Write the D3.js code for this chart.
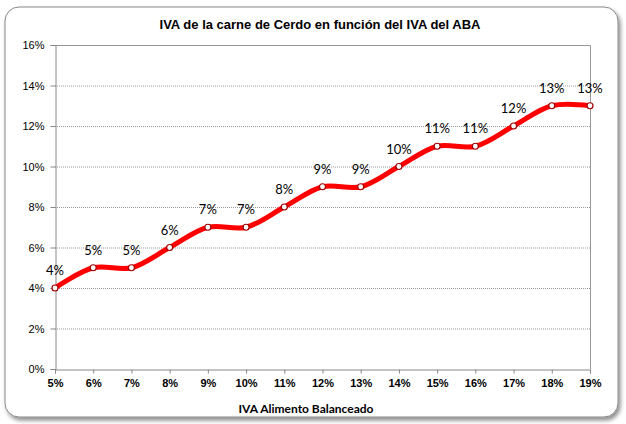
<!DOCTYPE html>
<meta charset="utf-8">
<style>
  body { margin: 0; background: #fff; font-family: Arial, "Liberation Sans", sans-serif; }
  .grid line { stroke: #999; stroke-dasharray: 1,1; }
  .axis path, .axis line { stroke: #888; }
  .axis text { fill: #000; font-size: 11px; }
  .xaxis text { font-weight: bold; }
</style>
<body>
<script src="https://d3js.org/d3.v7.min.js"></script>
<script>
  var categories = ["5%", "6%", "7%", "8%", "9%", "10%", "11%", "12%", "13%", "14%", "15%", "16%", "17%", "18%", "19%"];
  var values = [4, 5, 5, 6, 7, 7, 8, 9, 9, 10, 11, 11, 12, 13, 13];
  var yTicks = [0, 2, 4, 6, 8, 10, 12, 14, 16];

  var width = 626, height = 424;
  var plotLeft = 55, plotRight = 590, plotTop = 45, plotBottom = 369;

  var svg = d3.select("body").append("svg")
      .attr("width", width)
      .attr("height", height);

  // outer frame with soft shadow
  var defs = svg.append("defs");
  var f = defs.append("filter").attr("id", "sh").attr("x", "-5%").attr("y", "-5%").attr("width", "110%").attr("height", "110%");
  f.append("feDropShadow").attr("dx", 2).attr("dy", 3).attr("stdDeviation", 2).attr("flood-color", "#000").attr("flood-opacity", 0.45);

  svg.append("rect")
      .attr("x", 5).attr("y", 7)
      .attr("width", 613).attr("height", 410)
      .attr("rx", 14)
      .attr("fill", "#fff")
      .attr("stroke", "#888")
      .attr("stroke-width", 1)
      .attr("filter", "url(#sh)");

  var x = d3.scalePoint().domain(categories).range([plotLeft, plotRight]);
  var y = d3.scaleLinear().domain([0, 16]).range([plotBottom, plotTop]);

  // gridlines
  svg.append("g").attr("class", "grid")
    .selectAll("line")
    .data(yTicks.slice(1, -1))
    .enter().append("line")
      .attr("x1", plotLeft).attr("x2", plotRight)
      .attr("y1", function(d) { return y(d) + 0.5; })
      .attr("y2", function(d) { return y(d) + 0.5; });

  // plot border (top + right)
  svg.append("path")
      .attr("d", "M" + plotLeft + "," + (plotTop + 0.5) + "H" + (plotRight + 0.5) + "V" + plotBottom)
      .attr("fill", "none")
      .attr("stroke", "#999");

  svg.append("g")
      .attr("class", "axis")
      .attr("transform", "translate(" + (plotLeft + 0.5) + ",0)")
      .call(d3.axisLeft(y).tickValues(yTicks).tickSize(5).tickPadding(6)
        .tickFormat(function(d) { return d + "%"; }));

  svg.append("g")
      .attr("class", "axis xaxis")
      .attr("transform", "translate(0," + (plotBottom + 0.5) + ")")
      .call(d3.axisBottom(x).tickSize(4).tickPadding(6));

  var line = d3.line()
      .x(function(d, i) { return x(categories[i]); })
      .y(function(d) { return y(d); })
      .curve(d3.curveCatmullRom.alpha(0.5));

  svg.append("path")
      .datum(values)
      .attr("d", line)
      .attr("fill", "none")
      .attr("stroke", "#ff0000")
      .attr("stroke-width", 5)
      .attr("stroke-linecap", "round");

  svg.selectAll(".pt")
      .data(values)
      .enter().append("circle")
      .attr("class", "pt")
      .attr("cx", function(d, i) { return x(categories[i]); })
      .attr("cy", function(d) { return y(d); })
      .attr("r", 3)
      .attr("fill", "#fff")
      .attr("stroke", "#a00000")
      .attr("stroke-width", 1.2);

  svg.selectAll(".lbl")
      .data(values)
      .enter().append("text")
      .attr("class", "lbl")
      .attr("x", function(d, i) { return x(categories[i]); })
      .attr("y", function(d) { return y(d) - 13; })
      .attr("text-anchor", "middle")
      .style("font-family", "Lato, sans-serif")
      .style("font-size", "13px")
      .text(function(d) { return d + "%"; });

  svg.append("text")
      .attr("x", 320).attr("y", 29)
      .attr("text-anchor", "middle")
      .style("font-size", "13px")
      .style("font-weight", "bold")
      .text("IVA de la carne de Cerdo en función del IVA del ABA");

  svg.append("text")
      .attr("x", 306).attr("y", 413)
      .attr("text-anchor", "middle")
      .style("font-family", "Lato, sans-serif")
      .style("font-size", "12px")
      .style("font-weight", "bold")
      .text("IVA Alimento Balanceado");
</script>
</body>
